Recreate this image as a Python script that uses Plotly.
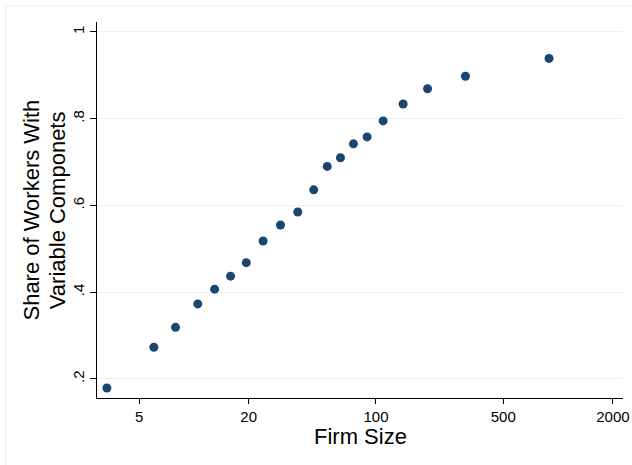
import plotly.graph_objects as go

firm_size = [3.33, 6.03, 7.93, 10.5, 13.0, 15.9, 19.4, 24.0, 29.9, 37.2,
             45.5, 54.0, 63.8, 75.2, 89.4, 109.5, 141, 192, 310, 892]
share_variable = [0.179, 0.273, 0.319, 0.373, 0.407, 0.437, 0.468, 0.518, 0.555, 0.585,
                  0.636, 0.690, 0.710, 0.742, 0.758, 0.795, 0.834, 0.869, 0.898, 0.939]

x_tick_vals = [5, 20, 100, 500, 2000]
x_tick_text = ["5", "20", "100", "500", "2000"]
y_tick_vals = [0.2, 0.4, 0.6, 0.8, 1.0]
y_tick_text = [".2", ".4", ".6", ".8", "1"]

W, H = 632, 465
L, R, T, B = 96.5, 9.3, 22.3, 66.7
pw = W - L - R
ph = H - T - B

FONT = "Liberation Sans, Arial, Helvetica, sans-serif"

fig = go.Figure()
fig.add_trace(go.Scatter(
    x=firm_size, y=share_variable, mode="markers",
    marker=dict(color="#1a476f", size=9, line=dict(width=0)),
    showlegend=False, hoverinfo="x+y",
))

fig.update_layout(
    width=W, height=H,
    margin=dict(l=L, r=R, t=T, b=B, pad=0, autoexpand=False),
    paper_bgcolor="white", plot_bgcolor="white",
    font=dict(family=FONT, color="black", size=15),
    xaxis=dict(
        type="log", range=[0.468, 3.3565], automargin=False,
        tickmode="array", tickvals=x_tick_vals, ticktext=x_tick_text,
        ticks="outside", ticklen=5, tickwidth=1, tickcolor="black",
        showline=True, linecolor="black", linewidth=1.3,
        showgrid=False, zeroline=False,
        tickfont=dict(size=15, family=FONT),
    ),
    yaxis=dict(
        range=[0.156, 1.023], automargin=False,
        tickmode="array", tickvals=y_tick_vals, ticktext=y_tick_text,
        tickangle=-90,
        ticks="outside", ticklen=6, tickwidth=1, tickcolor="black",
        showline=True, linecolor="black", linewidth=1.3,
        showgrid=True, gridcolor="#e8f0f2", gridwidth=1,
        zeroline=False,
        tickfont=dict(size=15, family=FONT),
    ),
    annotations=[
        dict(text="Share of Workers With", textangle=-90,
             xref="paper", yref="paper",
             x=(30 - L) / pw, y=0.5, xanchor="center", yanchor="middle",
             showarrow=False, font=dict(size=22, family=FONT, color="black")),
        dict(text="Variable Componets", textangle=-90,
             xref="paper", yref="paper",
             x=(56.7 - L) / pw, y=0.5, xanchor="center", yanchor="middle",
             showarrow=False, font=dict(size=22, family=FONT, color="black")),
        dict(text="Firm Size",
             xref="paper", yref="paper",
             x=0.5, y=(H - B - 436.5) / ph, xanchor="center", yanchor="middle",
             showarrow=False, font=dict(size=22, family=FONT, color="black")),
    ],
    shapes=[
        dict(type="rect", xref="paper", yref="paper",
             x0=(5 - L) / pw, x1=(W + 20 - L) / pw,
             y0=(H - T - B - (H + 20 - T)) / ph, y1=(H - B - 6) / ph,
             line=dict(color="#e4ecef", width=1), fillcolor="rgba(0,0,0,0)",
             layer="below"),
    ],
)

fig.write_html("out.html")
